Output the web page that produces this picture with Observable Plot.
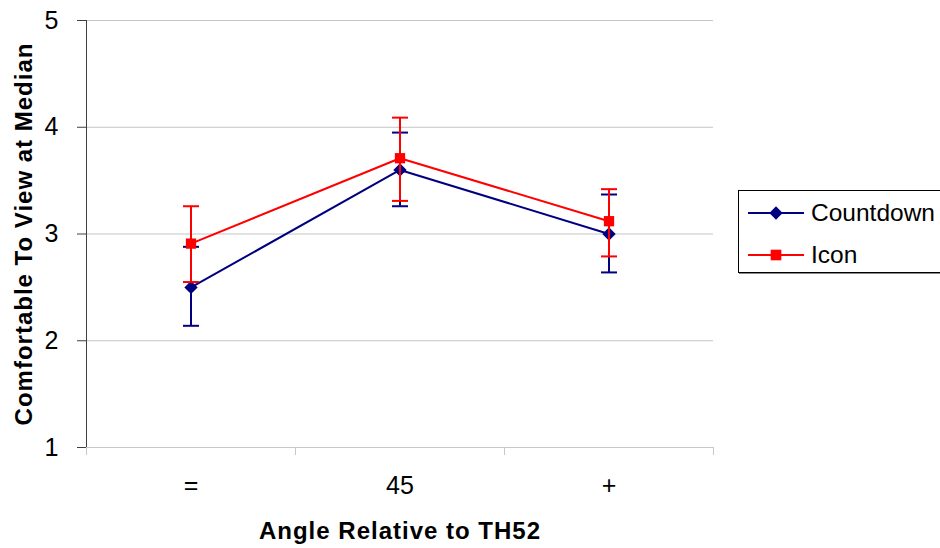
<!DOCTYPE html>
<html><head><meta charset="utf-8">
<script src="https://cdn.jsdelivr.net/npm/d3@7"></script>
<script src="https://cdn.jsdelivr.net/npm/@observablehq/plot@0.6"></script>
<style>
body{margin:0;background:#fff;font-family:"Liberation Sans",Arial,sans-serif;}
#wrap{position:relative;width:940px;height:548px;overflow:hidden;}
#legend{position:absolute;left:738px;top:190px;width:220px;height:83px;border:1px solid #000;box-sizing:border-box;background:#fff;box-shadow:1px 1px 0 #888;}
.row{position:absolute;left:0;height:40px;display:flex;align-items:center;}
.row svg{margin-left:9px;}
.row span{margin-left:7px;font-size:24.5px;color:#000;}
g[aria-label="text"] text{letter-spacing:1px;}
</style></head><body>
<div id="wrap"><div id="chart"></div><div id="legend"></div></div>
<script>
const categories = ["=", "45", "+"];
const seriesNames = ["Countdown", "Icon"];
const countdownMean = [2.5, 3.6, 3.0];
const countdownLow = [2.14, 3.26, 2.64];
const countdownHigh = [2.88, 3.95, 3.37];
const iconMean = [2.91, 3.71, 3.12];
const iconLow = [2.55, 3.31, 2.79];
const iconHigh = [3.26, 4.09, 3.42];
const colors = ["#000080", "#ff0000"];
const symbols = ["diamond2", "square"];
const yTicks = [1, 2, 3, 4, 5];
const xBoundaries = [0, 1, 2, 3];
const xTitle = "Angle Relative to TH52";
const yTitle = "Comfortable To View at Median";

const seriesData = [
  {name: seriesNames[0], mean: countdownMean, low: countdownLow, high: countdownHigh},
  {name: seriesNames[1], mean: iconMean, low: iconLow, high: iconHigh}
].map(s => categories.map((c, i) => ({series: s.name, cat: c, x: i + 0.5, mean: s.mean[i], low: s.low[i], high: s.high[i]})));

const cap = {draw(ctx, size) { const w = Math.sqrt(size / Math.PI); ctx.moveTo(-w, 0); ctx.lineTo(w, 0); }};

const seriesMarks = seriesData.flatMap((rows, k) => [
  Plot.line(rows, {x: "x", y: "mean", stroke: colors[k], strokeWidth: 2}),
  Plot.ruleX(rows, {x: "x", y1: "low", y2: "high", stroke: colors[k], strokeWidth: 2}),
  Plot.dot(rows, {x: "x", y: "low", symbol: cap, r: 8, stroke: colors[k], strokeWidth: 2, fill: "none"}),
  Plot.dot(rows, {x: "x", y: "high", symbol: cap, r: 8, stroke: colors[k], strokeWidth: 2, fill: "none"}),
  Plot.dot(rows, {x: "x", y: "mean", symbol: symbols[k], r: k === 0 ? 6 : 5.8, fill: colors[k], stroke: null})
]);

const chart = Plot.plot({
  width: 940, height: 548,
  marginLeft: 86, marginRight: 227, marginTop: 20, marginBottom: 101,
  style: {fontFamily: "'Liberation Sans', Arial, sans-serif", fontSize: "25px", color: "#000", background: "#fff"},
  x: {type: "linear", domain: [0, 3], axis: null},
  y: {domain: [1, 5], axis: null},
  marks: [
    Plot.gridY(yTicks, {stroke: "#c4c4c4", strokeOpacity: 1}),
    Plot.ruleY([1], {stroke: "#c8c8c8"}),
    Plot.axisX(xBoundaries, {tickSize: 8, stroke: "#c8c8c8", tickFormat: () => "", label: null}),
    Plot.axisX(categories.map((c, i) => i + 0.5), {tickSize: 0, tickPadding: 29, tickFormat: d => categories[Math.floor(d)], fontSize: 25, fill: "#000", label: null}),
    Plot.ruleX([0], {stroke: "#404040"}),
    Plot.axisY(yTicks, {tickSize: 9, tickPadding: 19, stroke: "#404040", tickFormat: d3.format("d"), fontSize: 25, fill: "#000", label: null}),
    Plot.text([xTitle], {frameAnchor: "bottom", lineAnchor: "middle", dy: 84, fontWeight: "bold", fontSize: 24, fill: "#000"}),
    Plot.text([yTitle], {frameAnchor: "left", textAnchor: "middle", lineAnchor: "middle", dx: -62, rotate: -90, fontWeight: "bold", fontSize: 24, fill: "#000"}),
    ...seriesMarks
  ]
});
document.getElementById("chart").appendChild(chart);

const legend = document.getElementById("legend");
seriesNames.forEach((name, k) => {
  const row = document.createElement("div");
  row.className = "row";
  row.style.top = (2 + k * 42) + "px";
  const sw = d3.create("svg").attr("width", 56).attr("height", 20);
  sw.append("line").attr("x1", 0).attr("x2", 56).attr("y1", 10).attr("y2", 10).attr("stroke", colors[k]).attr("stroke-width", 2);
  const sym = k === 0 ? d3.symbolDiamond2 : d3.symbolSquare;
  sw.append("path").attr("transform", "translate(28,10)").attr("d", d3.symbol(sym, Math.PI * 36)()).attr("fill", colors[k]);
  row.appendChild(sw.node());
  const t = document.createElement("span");
  t.textContent = name;
  row.appendChild(t);
  legend.appendChild(row);
});
</script>
</body></html>
